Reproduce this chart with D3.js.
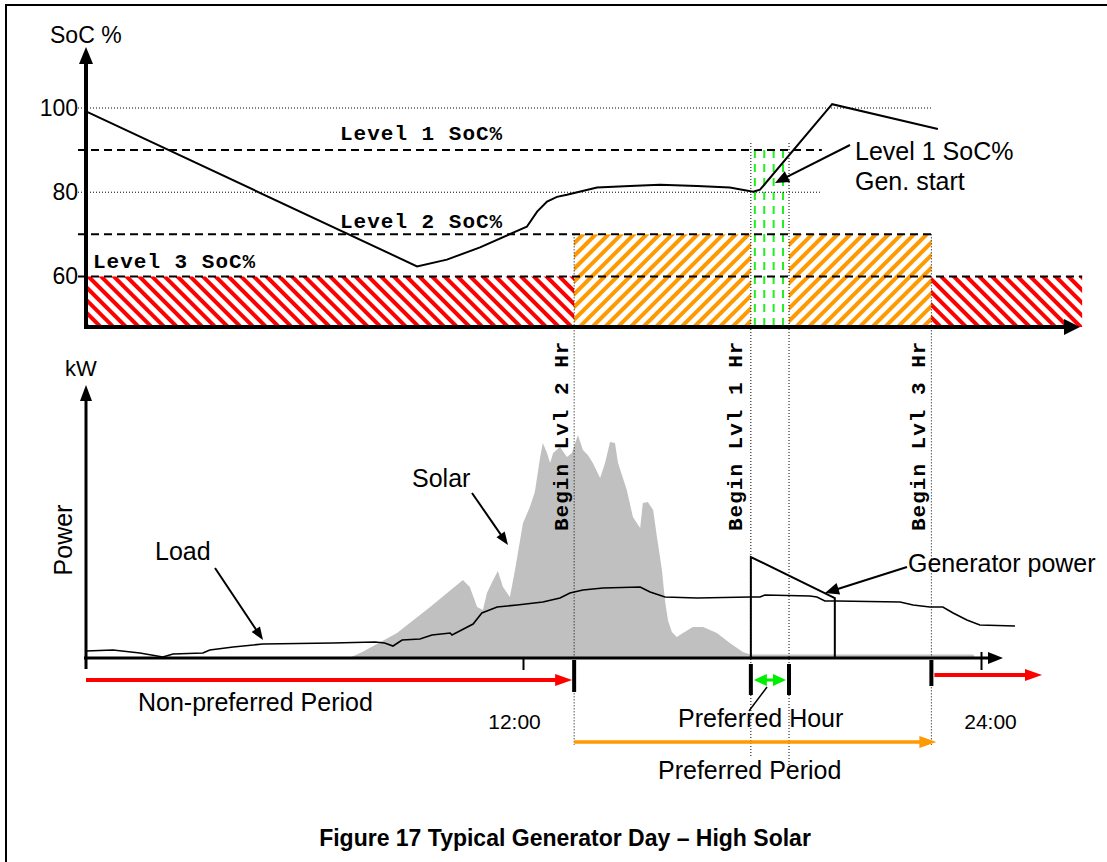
<!DOCTYPE html>
<html>
<head>
<meta charset="utf-8">
<script src="https://cdn.jsdelivr.net/npm/d3@7"></script>
<style>
  body { margin: 0; background: #fff; }
  svg text { font-family: Arial, 'Liberation Sans', sans-serif; fill: #000; }
  svg text.mono { font-family: 'Courier New', 'Liberation Mono', monospace; font-weight: bold; font-size: 21px; letter-spacing: 1px; }
</style>
</head>
<body>
<svg id="chart" width="1107" height="862"></svg>
<script>
'use strict';

// all times in hours of the day
const socCurve = [
    [0, 99.2], [9.09, 62.4], [9.91, 64.0], [10.82, 66.9], [11.73, 70.4], [12.1, 71.8],
    [12.37, 75.4], [12.63, 77.8], [12.89, 78.9], [13.15, 79.4], [13.94, 81.1], [14.8, 81.5],
    [15.59, 81.8], [16.56, 81.5], [17.42, 81.1], [18.03, 80.1], [18.21, 80.6],
    [20.1, 100.9], [22.87, 95.0]
];

const solarCurve = [
    [7.3, 0.05], [7.6, 0.25], [8.54, 1.0], [9.45, 2.04], [10.0, 2.7], [10.35, 3.12],
    [10.54, 2.84], [10.74, 2.04], [10.9, 1.92], [11.01, 2.6], [11.18, 3.12], [11.31, 3.48],
    [11.45, 2.84], [11.64, 2.44], [11.78, 3.52], [12.0, 5.4], [12.18, 6.04], [12.31, 6.64],
    [12.45, 8.04], [12.52, 8.6], [12.63, 8.2], [12.71, 7.8], [12.79, 8.2], [12.97, 8.44],
    [13.15, 8.04], [13.28, 8.2], [13.44, 8.92], [13.57, 8.32], [13.7, 8.12], [13.83, 7.8],
    [14.02, 7.2], [14.15, 7.8], [14.28, 8.64], [14.41, 8.6], [14.49, 7.8], [14.72, 6.72],
    [14.88, 5.64], [15.07, 5.2], [15.14, 6.2], [15.27, 6.24], [15.41, 5.92], [15.51, 4.84],
    [15.64, 3.52], [15.72, 2.3], [15.8, 1.5], [15.9, 1.04], [16.03, 0.84], [16.19, 1.0],
    [16.45, 1.24], [16.72, 1.24], [17.08, 1.0], [17.42, 0.6], [17.76, 0.24], [17.95, 0.14],
    [23.8, 0.14], [23.85, 0]
];

const loadCurve = [
    [0, 0.28], [0.74, 0.32], [1.48, 0.2], [2.11, 0.04], [2.39, 0.16], [3.21, 0.2], [3.4, 0.32],
    [4.04, 0.44], [4.86, 0.56], [6.78, 0.6], [7.94, 0.64], [8.2, 0.6], [8.43, 0.48], [8.68, 0.72],
    [9.17, 0.76], [9.5, 0.92], [10.0, 1.0], [10.05, 0.92], [10.63, 1.36], [10.87, 1.8],
    [11.29, 2.04], [11.84, 2.12], [12.52, 2.24], [12.97, 2.4], [13.23, 2.6], [13.57, 2.72],
    [14.1, 2.8], [15.07, 2.84], [15.33, 2.64], [15.72, 2.44], [16.56, 2.4], [17.95, 2.44],
    [18.21, 2.44], [18.34, 2.52], [19.52, 2.48], [19.7, 2.44], [19.91, 2.28], [20.23, 2.28],
    [21.88, 2.24], [22.22, 2.12], [22.66, 2.04], [23.0, 2.04], [23.27, 1.8], [23.63, 1.52],
    [23.97, 1.32], [24.89, 1.28]
];

const generatorCurve = [[17.97, 0], [17.97, 4.04], [20.17, 2.4], [20.17, 0]];

const socTicks = [60, 80, 100];
const socGrid = [100, 80];
const socGridEnd = [22.7, 19.78];
const levelNames = ['Level 1 SoC%', 'Level 2 SoC%', 'Level 3 SoC%'];
const levelValues = [90, 70, 60];
const levelLineEnd = [19.83, 22.7, 26.65];

const beginLabels = ['Begin Lvl 2 Hr', 'Begin Lvl 1 Hr', 'Begin Lvl 3 Hr'];
const beginTimes = [13.34, 17.97, 22.7];
const preferredHour = [17.97, 18.97];
const preferredPeriod = [13.34, 22.7];
const timeTicks = [12, 24];
const timeLabels = ['12:00', '24:00'];

const svg = d3.select('#chart');

const x = d3.scaleLinear().domain([0, 12, 24]).range([86, 523, 981]);
const ySoc = d3.scaleLinear().domain([48, 100]).range([327, 108]);
const yPow = d3.scaleLinear().domain([0, 10]).range([658, 408]);

const defs = svg.append('defs');

function addHatch(id, color, angle) {
    const p = defs.append('pattern')
        .attr('id', id)
        .attr('patternUnits', 'userSpaceOnUse')
        .attr('width', 9)
        .attr('height', 9)
        .attr('patternTransform', `rotate(${angle})`);
    p.append('rect').attr('width', 9).attr('height', 9).attr('fill', '#fff');
    p.append('rect').attr('width', 4).attr('height', 9).attr('fill', color);
}
addHatch('hatch-red', '#ff0000', -45);
addHatch('hatch-orange', '#ff9900', 45);

// line with a filled head (or two)
function arrow(g, x1, y1, x2, y2, opts) {
    const o = Object.assign({color: '#000', width: 1.5, len: 12, half: 5, both: false}, opts);
    const a = Math.atan2(y2 - y1, x2 - x1);
    const head = (tx, ty, ang) => {
        const bx = tx - o.len * Math.cos(ang);
        const by = ty - o.len * Math.sin(ang);
        return [
            [tx, ty],
            [bx - o.half * Math.sin(ang), by + o.half * Math.cos(ang)],
            [bx + o.half * Math.sin(ang), by - o.half * Math.cos(ang)]
        ];
    };
    const sx = o.both ? x1 + o.len * 0.6 * Math.cos(a) : x1;
    const sy = o.both ? y1 + o.len * 0.6 * Math.sin(a) : y1;
    g.append('line')
        .attr('x1', sx).attr('y1', sy)
        .attr('x2', x2 - o.len * 0.6 * Math.cos(a))
        .attr('y2', y2 - o.len * 0.6 * Math.sin(a))
        .attr('stroke', o.color)
        .attr('stroke-width', o.width);
    g.append('polygon').attr('points', head(x2, y2, a).join(' ')).attr('fill', o.color);
    if (o.both) {
        g.append('polygon').attr('points', head(x1, y1, a + Math.PI).join(' ')).attr('fill', o.color);
    }
}

// frame
svg.append('path')
    .attr('d', 'M6,862V5H1107')
    .attr('fill', 'none')
    .attr('stroke', '#000')
    .attr('stroke-width', 2);

// ---------- top chart: state of charge ----------
const socChart = svg.append('g');

const hatchBands = [
    {from: 0, to: preferredPeriod[0], level: levelValues[2], fill: 'url(#hatch-red)'},
    {from: preferredPeriod[0], to: preferredHour[0], level: levelValues[1], fill: 'url(#hatch-orange)'},
    {from: preferredHour[1], to: preferredPeriod[1], level: levelValues[1], fill: 'url(#hatch-orange)'},
    {from: preferredPeriod[1], to: levelLineEnd[2], level: levelValues[2], fill: 'url(#hatch-red)'}
];

socChart.selectAll('.band')
    .data(hatchBands)
    .enter().append('rect')
    .attr('class', 'band')
    .attr('x', d => x(d.from))
    .attr('y', d => ySoc(d.level))
    .attr('width', d => x(d.to) - x(d.from))
    .attr('height', d => ySoc(48) - ySoc(d.level))
    .attr('fill', d => d.fill);

// preferred hour: green dashed band
const hourX0 = x(preferredHour[0]);
const hourX1 = x(preferredHour[1]);
socChart.selectAll('.green')
    .data(d3.range(4))
    .enter().append('line')
    .attr('x1', i => hourX0 + 4 + i * (hourX1 - hourX0 - 10) / 3)
    .attr('x2', i => hourX0 + 4 + i * (hourX1 - hourX0 - 10) / 3)
    .attr('y1', ySoc(levelValues[0]))
    .attr('y2', ySoc(48))
    .attr('stroke', '#22ee22')
    .attr('stroke-width', 2)
    .attr('stroke-dasharray', '8,6');

socChart.selectAll('.grid')
    .data(socGrid)
    .enter().append('line')
    .attr('x1', 78)
    .attr('x2', (d, i) => x(socGridEnd[i]))
    .attr('y1', d => ySoc(d))
    .attr('y2', d => ySoc(d))
    .attr('stroke', '#000')
    .attr('stroke-width', 1)
    .attr('stroke-dasharray', '1,2');

socChart.selectAll('.level')
    .data(levelValues)
    .enter().append('line')
    .attr('x1', 78)
    .attr('x2', (d, i) => x(levelLineEnd[i]))
    .attr('y1', d => ySoc(d))
    .attr('y2', d => ySoc(d))
    .attr('stroke', '#000')
    .attr('stroke-width', 2)
    .attr('stroke-dasharray', '8,5');

const levelLabelPos = [[340, 140], [340, 228], [93, 268]];
socChart.selectAll('.levelLabel')
    .data(levelNames)
    .enter().append('text')
    .attr('class', 'mono')
    .attr('x', (d, i) => levelLabelPos[i][0])
    .attr('y', (d, i) => levelLabelPos[i][1])
    .text(d => d);

// vertical dotted guides through both charts
const guides = [
    {t: preferredPeriod[0], y1: ySoc(levelValues[1]), y2: 745},
    {t: preferredHour[0], y1: 143, y2: 758},
    {t: preferredHour[1], y1: 143, y2: 765},
    {t: preferredPeriod[1], y1: ySoc(levelValues[1]), y2: 745}
];

socChart.append('path')
    .datum(socCurve)
    .attr('d', d3.line().x(d => x(d[0])).y(d => ySoc(d[1])))
    .attr('fill', 'none')
    .attr('stroke', '#000')
    .attr('stroke-width', 2);

socChart.append('g')
    .attr('transform', 'translate(86,0)')
    .call(d3.axisLeft(ySoc).tickValues(socTicks).tickSize(0).tickPadding(8))
    .call(g => g.select('.domain').remove())
    .selectAll('text')
    .style('font-family', "Arial, 'Liberation Sans', sans-serif")
    .style('font-size', '23px')
    .attr('fill', '#000');

arrow(socChart, 86, 329, 86, 47, {width: 4, len: 17, half: 7});
arrow(socChart, 84, 327, 1080, 327, {width: 4, len: 16, half: 8});

socChart.append('text')
    .attr('x', 50).attr('y', 43)
    .style('font-size', '23px')
    .text('SoC %');

socChart.append('text')
    .attr('x', 855).attr('y', 160)
    .style('font-size', '25px')
    .text('Level 1 SoC%');
socChart.append('text')
    .attr('x', 855).attr('y', 190)
    .style('font-size', '25px')
    .text('Gen. start');
arrow(socChart, 850, 145, 775, 183, {width: 2, len: 14, half: 6});

// ---------- bottom chart: power ----------
const powerChart = svg.append('g');

powerChart.append('path')
    .datum(solarCurve)
    .attr('d', d3.area().x(d => x(d[0])).y0(yPow(0)).y1(d => yPow(d[1])))
    .attr('fill', '#c0c0c0');

svg.selectAll('.guide')
    .data(guides)
    .enter().append('line')
    .attr('x1', d => x(d.t))
    .attr('x2', d => x(d.t))
    .attr('y1', d => d.y1)
    .attr('y2', d => d.y2)
    .attr('stroke', '#000')
    .attr('stroke-width', 1)
    .attr('stroke-dasharray', '1,2');

// rotated "Begin" labels, on top of the solar area
const beginX = [568, 742, 925];
svg.selectAll('.begin')
    .data(beginLabels)
    .enter().append('text')
    .attr('class', 'mono')
    .attr('transform', (d, i) => `translate(${beginX[i]},531) rotate(-90)`)
    .text(d => d);

powerChart.append('path')
    .datum(loadCurve)
    .attr('d', d3.line().x(d => x(d[0])).y(d => yPow(d[1])))
    .attr('fill', 'none')
    .attr('stroke', '#000')
    .attr('stroke-width', 1.6);

powerChart.append('path')
    .datum(generatorCurve)
    .attr('d', d3.line().x(d => x(d[0])).y(d => yPow(d[1])))
    .attr('fill', 'none')
    .attr('stroke', '#000')
    .attr('stroke-width', 2);

arrow(powerChart, 86, 669, 86, 385, {width: 3, len: 16, half: 6});
arrow(powerChart, 84, 658, 1003, 658, {width: 3, len: 15, half: 6});

const timeAxis = powerChart.append('g')
    .attr('transform', `translate(0,${yPow(0)})`)
    .call(d3.axisBottom(x).tickValues(timeTicks).tickSize(12).tickPadding(44)
        .tickFormat((d, i) => timeLabels[i]));
timeAxis.select('.domain').remove();
timeAxis.selectAll('line')
    .attr('stroke', '#000')
    .attr('stroke-width', 2)
    .attr('y1', d => d === 24 ? -6 : 0);
timeAxis.selectAll('text')
    .attr('dx', d => d === 12 ? -9 : 9)
    .attr('fill', '#000')
    .style('font-family', "Arial, 'Liberation Sans', sans-serif")
    .style('font-size', '21px');

powerChart.append('text')
    .attr('x', 65).attr('y', 376)
    .style('font-size', '22px')
    .text('kW');

powerChart.append('text')
    .attr('transform', 'translate(72,540) rotate(-90)')
    .attr('text-anchor', 'middle')
    .style('font-size', '25px')
    .text('Power');

powerChart.append('text').attr('x', 412).attr('y', 487).style('font-size', '25px').text('Solar');
arrow(powerChart, 472, 493, 508, 545, {width: 2, len: 13, half: 5});

powerChart.append('text').attr('x', 155).attr('y', 560).style('font-size', '25px').text('Load');
arrow(powerChart, 215, 568, 263, 640, {width: 2, len: 13, half: 5});

powerChart.append('text').attr('x', 908).attr('y', 572).style('font-size', '25px').text('Generator power');
arrow(powerChart, 907, 567, 825, 593, {width: 2, len: 14, half: 6});

// ---------- period bar ----------
const periods = svg.append('g');

arrow(periods, 86, 680, x(preferredPeriod[0]) - 2, 680, {color: '#ff0000', width: 4, len: 17, half: 6});
arrow(periods, x(preferredPeriod[1]) + 3, 675, 1042, 675, {color: '#ff0000', width: 4, len: 17, half: 6});
arrow(periods, x(preferredHour[0]) + 3, 680, x(preferredHour[1]) - 3, 680,
    {color: '#00ee00', width: 3, len: 13, half: 6, both: true});
arrow(periods, x(preferredPeriod[0]), 742, x(preferredPeriod[1]) + 5, 742,
    {color: '#ff9900', width: 3.5, len: 17, half: 6});

const markers = [
    {t: preferredPeriod[0], y1: 660, y2: 692},
    {t: preferredHour[0], y1: 664, y2: 695},
    {t: preferredHour[1], y1: 664, y2: 695},
    {t: preferredPeriod[1], y1: 660, y2: 686}
];
periods.selectAll('.marker')
    .data(markers)
    .enter().append('line')
    .attr('x1', d => x(d.t))
    .attr('x2', d => x(d.t))
    .attr('y1', d => d.y1)
    .attr('y2', d => d.y2)
    .attr('stroke', '#000')
    .attr('stroke-width', 4);

periods.append('line')
    .attr('x1', 749).attr('y1', 711)
    .attr('x2', 767).attr('y2', 687)
    .attr('stroke', '#000')
    .attr('stroke-width', 1.5);

periods.append('text').attr('x', 138).attr('y', 711).style('font-size', '25px').text('Non-preferred Period');
periods.append('text').attr('x', 678).attr('y', 727).style('font-size', '25px').text('Preferred Hour');
periods.append('text').attr('x', 658).attr('y', 779).style('font-size', '25px').text('Preferred Period');

svg.append('text')
    .attr('x', 565).attr('y', 846)
    .attr('text-anchor', 'middle')
    .style('font-size', '23px')
    .style('font-weight', 'bold')
    .text('Figure 17 Typical Generator Day \u2013 High Solar');
</script>
</body>
</html>
